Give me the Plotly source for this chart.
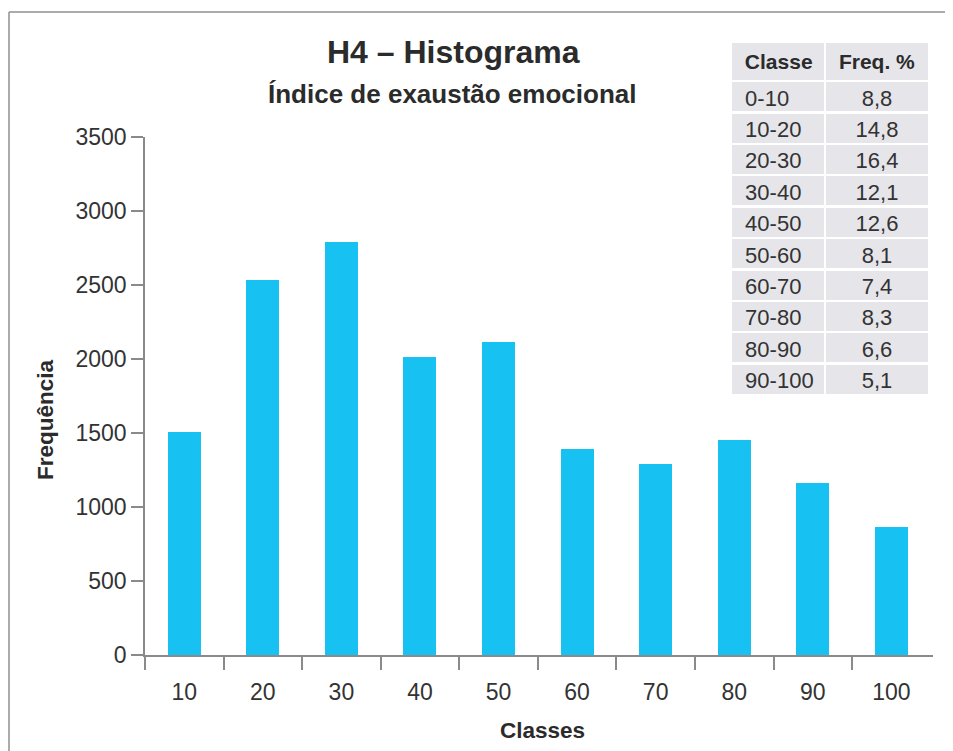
import plotly.graph_objects as go

# Data
classes = [10, 20, 30, 40, 50, 60, 70, 80, 90, 100]
frequencia = [1505, 2532, 2789, 2011, 2112, 1395, 1293, 1456, 1165, 867]
tabela_classe = ["0-10", "10-20", "20-30", "30-40", "40-50", "50-60",
                 "60-70", "70-80", "80-90", "90-100"]
tabela_freq = ["8,8", "14,8", "16,4", "12,1", "12,6", "8,1", "7,4", "8,3", "6,6", "5,1"]
y_ticks = [0, 500, 1000, 1500, 2000, 2500, 3000, 3500]
x_boundaries = [5, 15, 25, 35, 45, 55, 65, 75, 85, 95]

FONT = "Liberation Sans, Arial, sans-serif"
TXT = "#2b2b2b"
AX = "#8a8a8a"

OFF = 8  # page body margin
W, H = 953, 751
L, R, T, B = 145 - OFF, 953 - (933 - OFF), 40 - OFF, 751 - (655 - OFF)
PW, PH = W - L - R, H - T - B


def px(x):
    return (x - OFF - L) / PW


def py(y):
    return (H - B - (y - OFF)) / PH


NB = "\u00a0"

fig = go.Figure()

fig.add_trace(go.Bar(
    x=classes, y=frequencia, width=4.2,
    marker=dict(color="#17c2f2", line=dict(width=0)),
    xaxis="x", yaxis="y", showlegend=False,
))

fig.add_trace(go.Table(
    domain=dict(x=[px(731), px(929)], y=[0.3, py(42)]),
    columnwidth=[94, 104],
    header=dict(
        values=[NB + "<b>Classe</b>", "<b>Freq. %</b>"],
        fill_color="#e5e5ea",
        line=dict(color="white", width=2.5),
        align=["left", "center"],
        font=dict(family=FONT, size=21, color=TXT),
        height=31.4,
    ),
    cells=dict(
        values=[[NB + c for c in tabela_classe], tabela_freq],
        fill_color="#e5e5ea",
        line=dict(color="white", width=2.5),
        align=["left", "center"],
        font=dict(family=FONT, size=22, color="#333333"),
        height=31.4,
    ),
))

fig.update_layout(
    width=W, height=H,
    margin=dict(l=L, r=R, t=T, b=B),
    paper_bgcolor="white", plot_bgcolor="white",
    font=dict(family=FONT, color=TXT),
    bargap=0,
    xaxis=dict(
        range=[5, 105.3], showgrid=False, zeroline=False,
        showline=True, linecolor=AX, linewidth=1.5,
        tickvals=classes, ticktext=[str(c) for c in classes],
        ticks="outside", ticklen=16, tickcolor="rgba(0,0,0,0)",
        tickfont=dict(size=23, color="#333333"),
        minor=dict(tickvals=x_boundaries, ticks="outside", ticklen=13,
                   tickwidth=1.5, tickcolor=AX),
        fixedrange=True,
    ),
    yaxis=dict(
        domain=[0, py(137)], range=[0, 3500], showgrid=False, zeroline=False,
        showline=True, linecolor=AX, linewidth=1.5,
        tickvals=y_ticks, ticks="outside", ticklen=12, tickwidth=1.5, tickcolor=AX,
        tickfont=dict(size=23, color="#333333"),
        fixedrange=True,
    ),
    annotations=[
        dict(text="<b>H4 – Histograma</b>", x=px(453), y=py(52), xref="paper", yref="paper",
             showarrow=False, font=dict(size=32, color=TXT), xanchor="center", yanchor="middle"),
        dict(text="<b>Índice de exaustão emocional</b>", x=px(452), y=py(94), xref="paper", yref="paper",
             showarrow=False, font=dict(size=26, color=TXT), xanchor="center", yanchor="middle"),
        dict(text="<b>Classes</b>", x=px(542), y=py(730), xref="paper", yref="paper",
             showarrow=False, font=dict(size=22.5, color=TXT), xanchor="center", yanchor="middle"),
        dict(text="<b>Frequência</b>", x=px(45), y=py(420), xref="paper", yref="paper",
             showarrow=False, font=dict(size=22.5, color=TXT), textangle=-90,
             xanchor="center", yanchor="middle"),
    ],
    shapes=[
        dict(type="line", xref="paper", yref="paper", x0=px(9), x1=px(9), y0=py(12), y1=py(770),
             line=dict(color="#8f8f8f", width=1.5)),
        dict(type="line", xref="paper", yref="paper", x0=px(9), x1=px(970), y0=py(12), y1=py(12),
             line=dict(color="#8f8f8f", width=1.5)),
    ],
)

fig.write_html("out.html")
